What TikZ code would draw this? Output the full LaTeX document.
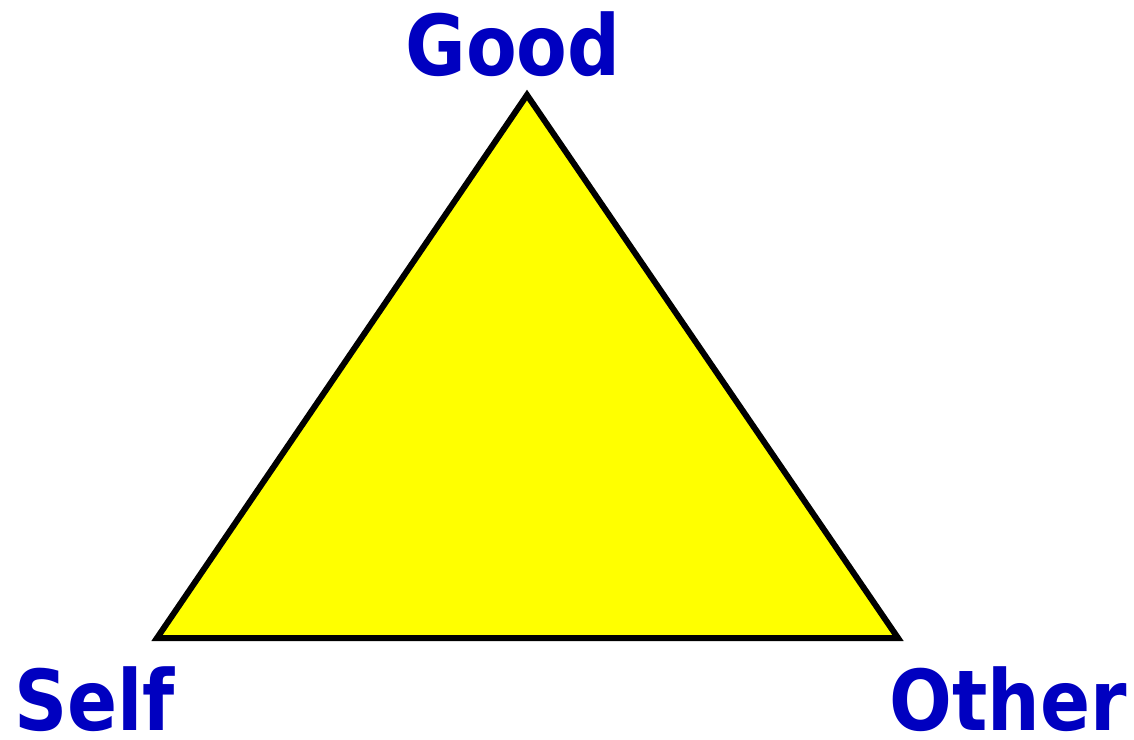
\documentclass[tikz,border=0pt]{standalone}
\usepackage{fontspec}
\setmainfont{DejaVu Sans}
\definecolor{lbl}{HTML}{0000C0}
\definecolor{tri}{HTML}{FFFF00}
\tikzset{
  lab/.style={inner sep=0pt, text=lbl, font=\fontsize{84}{90}\selectfont\bfseries},
}
\begin{document}
\begin{tikzpicture}[x=1pt,y=-1pt]
\useasboundingbox (0,0) rectangle (1134,739);
\coordinate (top) at (527,95);
\coordinate (bl) at (157,638);
\coordinate (br) at (898,638);
\draw[line width=6pt, fill=tri, line join=miter] (top) -- (bl) -- (br) -- cycle;
\node[lab, anchor=base] (good) at (513,75) {\scalebox{0.88}[1]{Good}};
\node[lab, anchor=base west] (self) at (14,730) {\scalebox{0.88}[1]{Self}};
\node[lab, anchor=base east] (other) at (1127,730) {\scalebox{0.88}[1]{Other}};
\end{tikzpicture}
\end{document}
